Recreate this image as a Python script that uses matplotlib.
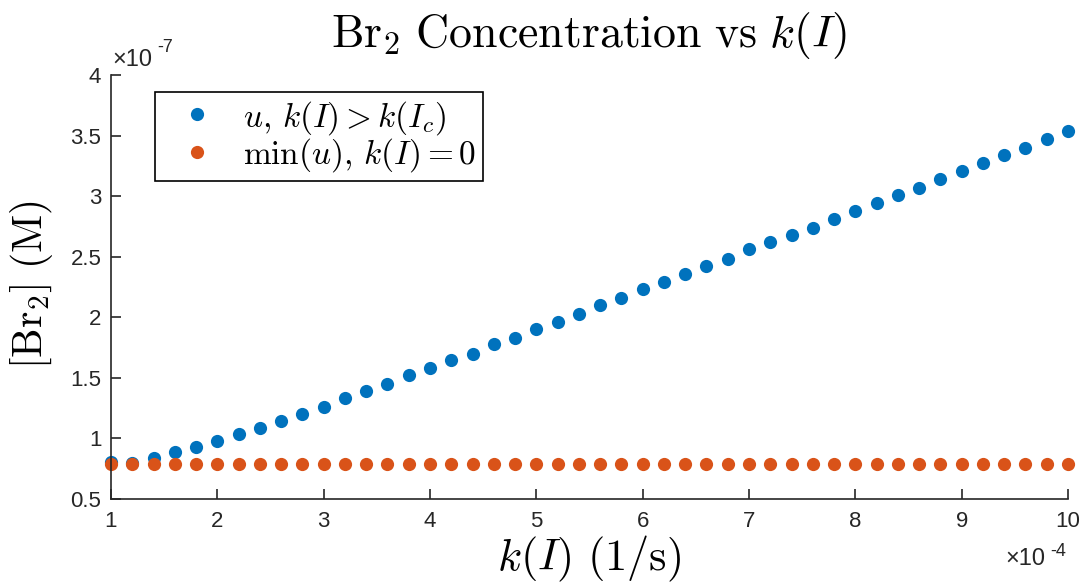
import numpy as np
import matplotlib
matplotlib.use("Agg")
import matplotlib.pyplot as plt

plt.rcParams['mathtext.fontset'] = 'cm'
plt.rcParams['font.family'] = 'Liberation Sans'

# rate constant k(I), in units of 1e-4 1/s
k_vals = [1.0, 1.2, 1.4, 1.6, 1.8, 2.0, 2.2, 2.4, 2.6, 2.8,
          3.0, 3.2, 3.4, 3.6, 3.8, 4.0, 4.2, 4.4, 4.6, 4.8,
          5.0, 5.2, 5.4, 5.6, 5.8, 6.0, 6.2, 6.4, 6.6, 6.8,
          7.0, 7.2, 7.4, 7.6, 7.8, 8.0, 8.2, 8.4, 8.6, 8.8,
          9.0, 9.2, 9.4, 9.6, 9.8, 10.0]

# Br2 concentration, in units of 1e-7 M
u_vals = [0.805, 0.80, 0.84, 0.89, 0.93, 0.98, 1.04, 1.09, 1.14, 1.20,
          1.26, 1.33, 1.39, 1.45, 1.52, 1.58, 1.65, 1.70, 1.78, 1.83,
          1.90, 1.96, 2.03, 2.10, 2.16, 2.23, 2.29, 2.36, 2.42, 2.48,
          2.56, 2.62, 2.68, 2.74, 2.81, 2.88, 2.94, 3.01, 3.07, 3.14,
          3.21, 3.27, 3.34, 3.40, 3.47, 3.54]
u_min = [0.79] * len(k_vals)

x_ticks = [1, 2, 3, 4, 5, 6, 7, 8, 9, 10]
y_ticks = [0.5, 1, 1.5, 2, 2.5, 3, 3.5, 4]

blue = '#0072BD'
orange = '#D95319'
dark = '#262626'

fig = plt.figure(figsize=(10.86, 5.86), dpi=100)
ax = fig.add_axes([0.1022, 0.1485, 0.8812, 0.7235])

ax.plot(k_vals, u_vals, linestyle='none', marker='o', markersize=9.5,
        color=blue, markeredgewidth=0, label=r'$u,\,k(I)>k(I_c)$')
ax.plot(k_vals, u_min, linestyle='none', marker='o', markersize=9.5,
        color=orange, markeredgewidth=0, label=r'$\min(u),\,k(I)=0$')

ax.set_xlim(1, 10)
ax.set_ylim(0.5, 4)
ax.set_xticks(x_ticks)
ax.set_yticks(y_ticks)
ax.set_xticklabels(['%g' % t for t in x_ticks])
ax.set_yticklabels(['%g' % t for t in y_ticks])

for side in ['top', 'right']:
    ax.spines[side].set_visible(False)
for side in ['left', 'bottom']:
    ax.spines[side].set_color(dark)
    ax.spines[side].set_linewidth(1.2)
ax.tick_params(direction='in', length=7, width=1.2, colors=dark,
               labelsize=16)
ax.tick_params(axis='x', pad=9)
ax.tick_params(axis='y', pad=7)
for line in ax.lines:
    line.set_clip_on(False)

# exponent labels
ax.text(0.001, 1.01, u'\u00d710', transform=ax.transAxes, fontsize=17,
        color=dark, ha='left', va='bottom')
ax.text(0.048, 1.045, '-7', transform=ax.transAxes, fontsize=13,
        color=dark, ha='left', va='bottom')
ax.text(0.935, -0.115, u'\u00d710', transform=ax.transAxes, fontsize=17,
        color=dark, ha='left', va='top')
ax.text(0.981, -0.103, '-4', transform=ax.transAxes, fontsize=13,
        color=dark, ha='left', va='top')

ax.set_title(r'$\mathrm{Br}_2\ \mathrm{Concentration\ vs}\ k(I)$',
             fontsize=33, pad=20)
ax.set_xlabel(r'$k(I)\ \mathrm{(1/s)}$', fontsize=32, labelpad=1)
ax.set_ylabel(r'$[\mathrm{Br}_2]\ \mathrm{(M)}$', fontsize=30)
ax.yaxis.set_label_coords(-0.058, 0.505)

leg = ax.legend(loc='upper left', bbox_to_anchor=(0.046, 0.96), fontsize=24,
                frameon=True, fancybox=False, framealpha=1,
                edgecolor='black', borderpad=0.2, borderaxespad=0,
                handletextpad=0.35, labelspacing=0.0, handlelength=2.1)
leg.get_frame().set_linewidth(1.2)

fig.savefig('out.png', dpi=100)
